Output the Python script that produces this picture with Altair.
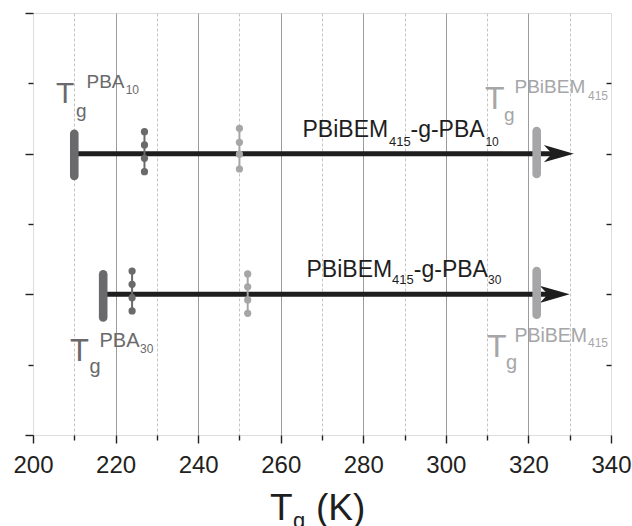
import altair as alt
import pandas as pd

# ---------------- data ----------------
x_major_ticks = [200, 220, 240, 260, 280, 300, 320, 340]
x_minor_ticks = [210, 230, 250, 270, 290, 310, 330]
y_major_ticks = [0, 1, 2, 3]
y_minor_ticks = [0.5, 1.5, 2.5]
y_right_ticks = [0.5, 1, 1.5, 2, 2.5]

# two copolymers (rows)
row_pos = [2, 1]
arrow_start = [210, 217]
arrow_end = [331, 330]

# Tg markers (thick vertical bars)
bar_x = [210, 322, 217, 322]
bar_top = [2.141, 2.161, 1.142, 1.166]
bar_bottom = [1.841, 1.855, 0.836, 0.855]
bar_tone = ["dark", "light", "dark", "light"]

# dotted columns
dot_series = ["r1d"] * 4 + ["r1l"] * 4 + ["r2d"] * 4 + ["r2l"] * 4
dot_x = [227] * 4 + [250] * 4 + [224] * 4 + [252] * 4
dot_y = [2.156, 2.062, 1.967, 1.872,
         2.180, 2.081, 1.996, 1.891,
         1.166, 1.071, 0.976, 0.882,
         1.145, 1.054, 0.960, 0.865]
dot_tone = ["dark"] * 4 + ["light"] * 4 + ["dark"] * 4 + ["light"] * 4

# text annotations: text, x (K), y (row units), font size, tone
ann_text = ["T", "g", "PBA", "10",
            "T", "g", "PBA", "30",
            "T", "g", "PBiBEM", "415",
            "T", "g", "PBiBEM", "415",
            "PBiBEM", "415", "-g-PBA", "10",
            "PBiBEM", "415", "-g-PBA", "30",
            "T", "g", "(K)"]
ann_x = [205.571, 210.415, 212.958, 222.453,
         208.962, 213.685, 216.107, 225.917,
         309.481, 314.083, 316.626, 334.429,
         309.965, 314.567, 316.626, 334.429,
         265.277, 286.228, 291.436, 309.578,
         266.246, 286.955, 292.235, 310.208,
         257.404, 262.976, 268.547]
ann_y = [2.360, 2.261, 2.467, 2.424,
         0.526, 0.441, 0.626, 0.583,
         2.318, 2.232, 2.431, 2.385,
         0.554, 0.469, 0.661, 0.626,
         2.118, 2.055, 2.118, 2.055,
         1.123, 1.070, 1.123, 1.070,
         -0.604, -0.661, -0.604]
ann_size = [30, 19, 19, 12,
            31, 20, 20, 12,
            32, 19, 19, 12,
            32, 20, 19.5, 12,
            23, 13, 23, 12,
            23, 13, 23, 12,
            37, 22, 37]
ann_tone = ["dark"] * 8 + ["light"] * 8 + ["black"] * 8 + ["black"] * 3

# ---------------- styles ----------------
DARK = "#6a6a6c"
LIGHT = "#a6a6a8"
BLACK = "#1e1e1e"
FRAME = "#231f20"
FONT = "Liberation Sans"
W, H = 578, 422

arrows = pd.DataFrame({"row": row_pos, "start": arrow_start, "end": arrow_end})
bars = pd.DataFrame({"x": bar_x, "top": bar_top, "bottom": bar_bottom, "tone": bar_tone})
dots = pd.DataFrame({"series": dot_series, "x": dot_x, "y": dot_y, "tone": dot_tone})
ann = pd.DataFrame({"text": ann_text, "x": ann_x, "y": ann_y, "fs": ann_size, "tone": ann_tone})

xs = alt.Scale(domain=[200, 340], nice=False, zero=False)
ys = alt.Scale(domain=[0, 3], nice=False, zero=False)
tone_scale = alt.Scale(domain=["dark", "light", "black"], range=[DARK, LIGHT, BLACK])

x_major_axis = alt.Axis(
    orient="bottom", values=x_major_ticks, title=None, domain=False,
    grid=True, gridColor="#9c9c9c", gridWidth=1,
    gridOpacity={"condition": {"test": "datum.value == 200 || datum.value == 340", "value": 0}, "value": 1},
    ticks=True, tickSize=8, tickColor=FRAME, tickWidth=1.4,
    labels=True, labelFont=FONT, labelFontSize=24, labelColor=FRAME,
    labelPadding=10, labelFlush=False, labelOverlap=False, format="d",
)
x_minor_axis = alt.Axis(
    orient="bottom", values=x_minor_ticks, title=None, domain=False,
    grid=True, gridColor="#c4c4c4", gridWidth=1, gridDash=[3, 2],
    ticks=True, tickSize=5, tickColor=FRAME, tickWidth=1.4, labels=False,
)
y_left_major = alt.Axis(
    orient="left", values=y_major_ticks, title=None, domain=False, grid=False,
    ticks=True, tickSize=8, tickColor=FRAME, tickWidth=1.4, labels=False,
)
y_left_minor = alt.Axis(
    orient="left", values=y_minor_ticks, title=None, domain=False, grid=False,
    ticks=True, tickSize=5, tickColor=FRAME, tickWidth=1.4, labels=False,
)
y_right = alt.Axis(
    orient="right", values=y_right_ticks, title=None, domain=False, grid=False,
    ticks=True, tickSize=5, tickColor=FRAME, tickWidth=1.4, labels=False, offset=-5,
)

arrow_line = alt.Chart(arrows).mark_rule(
    color=BLACK, strokeWidth=5, x2Offset=-14
).encode(
    x=alt.X("start:Q", scale=xs, axis=x_major_axis),
    x2="end:Q",
    y=alt.Y("row:Q", scale=ys, axis=y_left_major),
)

arrow_head = alt.Chart(arrows).mark_point(
    shape="M0,0 L-2,-0.58 L-1.45,0 L-2,0.58 Z",
    filled=True, size=900, color=BLACK, opacity=1, strokeWidth=0,
).encode(
    x=alt.X("end:Q", scale=xs, axis=None),
    y=alt.Y("row:Q", scale=ys, axis=None),
)

bar_layer = alt.Chart(bars).mark_rule(strokeWidth=8.6, strokeCap="round").encode(
    x=alt.X("x:Q", scale=xs, axis=x_minor_axis),
    y=alt.Y("top:Q", scale=ys, axis=y_left_minor),
    y2="bottom:Q",
    color=alt.Color("tone:N", scale=tone_scale, legend=None),
)

dot_lines = alt.Chart(dots).mark_line(strokeWidth=2).encode(
    x=alt.X("x:Q", scale=xs, axis=None),
    y=alt.Y("y:Q", scale=ys, axis=y_right),
    detail="series:N",
    order="y:Q",
    color=alt.Color("tone:N", scale=tone_scale, legend=None),
)

dot_points = alt.Chart(dots).mark_point(filled=True, size=52, opacity=1, shape="circle").encode(
    x=alt.X("x:Q", scale=xs, axis=None),
    y=alt.Y("y:Q", scale=ys, axis=None),
    color=alt.Color("tone:N", scale=tone_scale, legend=None),
)

texts = alt.Chart(ann).mark_text(align="left", baseline="alphabetic", font=FONT).encode(
    x=alt.X("x:Q", scale=xs, axis=None),
    y=alt.Y("y:Q", scale=ys, axis=None),
    text="text:N",
    size=alt.Size("fs:Q", scale=None, legend=None),
    color=alt.Color("tone:N", scale=tone_scale, legend=None),
)

chart = alt.layer(
    arrow_line, arrow_head, bar_layer, dot_lines, dot_points, texts
).resolve_axis(
    x="independent", y="independent"
).properties(
    width=W, height=H,
    autosize=alt.AutoSizeParams(type="none"),
    padding={"left": 33, "top": 13, "right": 21, "bottom": 91},
).configure_view(
    stroke=FRAME, strokeWidth=1.6
).configure(background="white")

chart.save("out.html", embed_options={"renderer": "svg", "actions": False})
